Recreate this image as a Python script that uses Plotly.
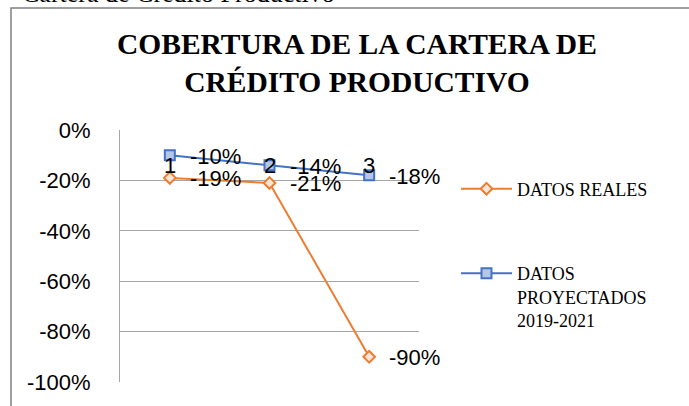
import plotly.graph_objects as go

categories = [1, 2, 3]
reales = [-0.19, -0.21, -0.90]
proyectados = [-0.10, -0.14, -0.18]
reales_labels = ["-19%", "-21%", "-90%"]
proy_labels = ["-10%", "-14%", "-18%"]
y_ticks = [0, -0.2, -0.4, -0.6, -0.8, -1.0]
y_ticktext = ["0%", "-20%", "-40%", "-60%", "-80%", "-100%"]

W, H = 689, 406
L, R, T, B = 120, 419, 130, 382

def px(x):
    return (x - L) / (R - L)

def py(y):
    return (B - y) / (B - T)

ORANGE = "#ED7D31"
BLUE = "#4472C4"
SANS = "Liberation Sans"
SERIF = "Liberation Serif"

fig = go.Figure()
fig.add_trace(go.Scatter(
    x=categories, y=reales, mode="lines+markers", name="DATOS REALES",
    line=dict(color=ORANGE, width=2),
    marker=dict(symbol="diamond", size=9, color="#FBE5D6", line=dict(color=ORANGE, width=2)),
    legend="legend",
))
fig.add_trace(go.Scatter(
    x=categories, y=proyectados, mode="lines+markers",
    name="DATOS<br>PROYECTADOS<br>2019-2021",
    line=dict(color=BLUE, width=2),
    marker=dict(symbol="square", size=10, color="#B4C7E7", line=dict(color=BLUE, width=2)),
    legend="legend2",
))

annotations = []
for xs, ys, labs in [(categories, reales, reales_labels), (categories, proyectados, proy_labels)]:
    for xv, yv, t in zip(xs, ys, labs):
        annotations.append(dict(x=xv, y=yv, xref="x", yref="y", text=t, showarrow=False,
                                xanchor="left", yanchor="middle", xshift=18, yshift=-1,
                                font=dict(family=SANS, size=22, color="black")))
# category labels
for c in categories:
    annotations.append(dict(x=c, y=-0.14, xref="x", yref="y", text=str(c), showarrow=False,
                            xanchor="center", yanchor="middle",
                            font=dict(family=SANS, size=22, color="black")))
# title
annotations.append(dict(x=px(357), y=py(63), xref="paper", yref="paper",
                        text="COBERTURA DE LA CARTERA DE<br>CRÉDITO PRODUCTIVO",
                        showarrow=False, xanchor="center", yanchor="middle",
                        font=dict(family=SERIF, size=29.5, color="black", weight="bold")))
# caption above the chart frame (cut off at top)
annotations.append(dict(x=px(20), y=py(-6), xref="paper", yref="paper",
                        text="Cartera de Crédito Productivo", showarrow=False,
                        xanchor="left", yanchor="middle",
                        font=dict(family=SERIF, size=26, color="black")))

fig.update_layout(
    width=W, height=H,
    margin=dict(l=L, r=W - R, t=T, b=H - B, autoexpand=False),
    paper_bgcolor="white", plot_bgcolor="white",
    xaxis=dict(range=[0.5, 3.5], showticklabels=False, showgrid=False, zeroline=False,
               showline=False, fixedrange=True),
    yaxis=dict(range=[-1.0, 0], tickvals=y_ticks, ticktext=y_ticktext,
               showgrid=True, gridcolor="#A6A6A6", gridwidth=1, zeroline=False,
               showline=True, linecolor="#A6A6A6", linewidth=1, ticks="",
               ticklabelstandoff=24,
               tickfont=dict(family=SANS, size=22, color="black")),
    showlegend=True,
    legend=dict(x=px(456), y=py(189), xanchor="left", yanchor="middle",
                font=dict(family=SERIF, size=18, color="black"), itemwidth=51,
                bgcolor="rgba(0,0,0,0)", valign="top"),
    legend2=dict(x=px(456), y=py(255), xanchor="left", yanchor="top",
                 font=dict(family=SERIF, size=18, color="black"), itemwidth=51,
                 bgcolor="rgba(0,0,0,0)", valign="top"),
    annotations=annotations,
    shapes=[dict(type="rect", xref="paper", yref="paper",
                 x0=px(11), x1=px(720), y0=py(8), y1=py(440),
                 line=dict(color="#808080", width=1.5), fillcolor="rgba(0,0,0,0)", layer="below")],
)

fig.write_html("out.html", config={"displayModeBar": False},
               post_script="document.body.style.margin='0';document.body.style.overflow='hidden';")
